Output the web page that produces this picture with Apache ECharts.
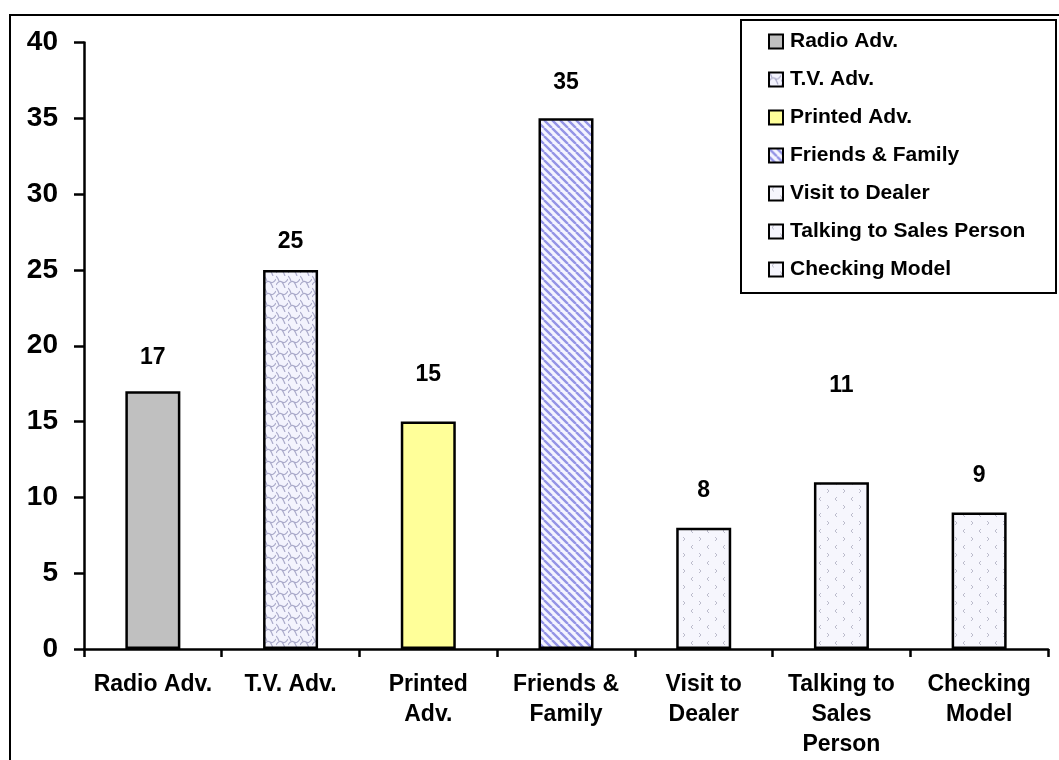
<!DOCTYPE html>
<html>
<head>
<meta charset="utf-8">
<title>Sources of Information</title>
<script src="https://cdn.jsdelivr.net/npm/echarts@6/dist/echarts.min.js"></script>
<style>
  html, body { margin: 0; padding: 0; background: #ffffff; }
  #chart { width: 1059px; height: 760px; }
</style>
</head>
<body>
<div id="chart"></div>
<script>
// Information sources and how many respondents named each one
const categories = ['Radio Adv.', 'T.V. Adv.', 'Printed Adv.', 'Friends & Family',
  'Visit to Dealer', 'Talking to Sales Person', 'Checking Model'];
const tickLabels = ['Radio Adv.', 'T.V. Adv.', 'Printed\nAdv.', 'Friends &\nFamily',
  'Visit to\nDealer', 'Talking to\nSales\nPerson', 'Checking\nModel'];
const values = [17, 25, 15, 35, 8, 11, 9];
const yTicks = [0, 5, 10, 15, 20, 25, 30, 35, 40];

// How far each value label sits above its bar (px, label centre to bar top)
const labelRise = [34, 28, 47, 36, 37, 97, 37];

const FONT = 'Arial, "Liberation Sans", sans-serif';

function makeTile(w, h, draw) {
  const c = document.createElement('canvas');
  c.width = w; c.height = h;
  draw(c.getContext('2d'), w, h);
  return { image: c, repeat: 'repeat' };
}

// Woven lattice fill
const weave = makeTile(12, 12, (g, w, h) => {
  g.fillStyle = '#f3f3fd'; g.fillRect(0, 0, w, h);
  g.strokeStyle = '#a9a9c9'; g.lineWidth = 1.2;
  g.beginPath();
  g.moveTo(0, 9); g.quadraticCurveTo(3, 4, 6, 6); g.quadraticCurveTo(9, 8, 12, 3);
  g.moveTo(-6, 15); g.quadraticCurveTo(-3, 10, 0, 12);
  g.moveTo(0, 0); g.quadraticCurveTo(2, 2, 3, 5);
  g.moveTo(6, 6); g.quadraticCurveTo(8, 9, 9, 12);
  g.stroke();
});

// Diagonal stripes
const stripes = makeTile(8, 8, (g, w, h) => {
  g.fillStyle = '#f4f4ff'; g.fillRect(0, 0, w, h);
  g.strokeStyle = '#9494e6'; g.lineWidth = 2.4;
  g.beginPath();
  [-8, 0, 8].forEach(k => { g.moveTo(k, 0); g.lineTo(k + 8, 8); });
  g.stroke();
});

// Sparse chevron speckle
const speckle = makeTile(16, 16, (g, w, h) => {
  g.fillStyle = '#f6f6fd'; g.fillRect(0, 0, w, h);
  g.strokeStyle = '#bcbccc'; g.lineWidth = 1;
  g.beginPath();
  g.moveTo(5, 1); g.lineTo(3, 3); g.lineTo(5, 5);
  g.moveTo(11, 9); g.lineTo(13, 11); g.lineTo(11, 13);
  g.stroke();
});

const fills = ['#c0c0c0', weave, '#ffff99', stripes, speckle, speckle, speckle];

const series = categories.map((name, i) => ({
  name: name,
  type: 'bar',
  stack: 'sources',
  barWidth: 55,
  data: values.map((v, j) => (j === i ? v : '-')),
  itemStyle: { color: fills[i], borderColor: '#000000', borderWidth: 2.5 },
  label: {
    show: true,
    position: 'top',
    distance: 0,
    verticalAlign: 'middle',
    offset: [0, -labelRise[i]],
    color: '#000000',
    fontFamily: FONT,
    fontWeight: 'bold',
    fontSize: 23
  },
  emphasis: { disabled: true }
}));

const chart = echarts.init(document.getElementById('chart'), null, { renderer: 'canvas' });
chart.setOption({
  animation: false,
  backgroundColor: '#ffffff',
  grid: { left: 84, right: 11, top: 42.5, bottom: 110, containLabel: false },
  xAxis: {
    type: 'category',
    data: tickLabels,
    axisLine: { show: true, lineStyle: { color: '#000000', width: 2.5 } },
    axisTick: { show: true, length: 8, lineStyle: { color: '#000000', width: 2.5 } },
    axisLabel: {
      interval: 0, margin: 21, color: '#000000', fontFamily: FONT,
      fontWeight: 'bold', fontSize: 23, lineHeight: 30
    },
    splitLine: { show: false }
  },
  yAxis: {
    type: 'value',
    min: yTicks[0],
    max: yTicks[yTicks.length - 1],
    interval: yTicks[1] - yTicks[0],
    axisLine: { show: true, lineStyle: { color: '#000000', width: 2.5 } },
    axisTick: { show: true, length: 10, lineStyle: { color: '#000000', width: 2.5 } },
    axisLabel: {
      margin: 26, color: '#000000', fontFamily: FONT, fontWeight: 'bold', fontSize: 28
    },
    splitLine: { show: false }
  },
  legend: {
    orient: 'vertical',
    left: 768,
    top: 31,
    padding: 0,
    itemWidth: 14,
    itemHeight: 14,
    itemGap: 17,
    icon: 'rect',
    selectedMode: false,
    itemStyle: { borderColor: '#000000', borderWidth: 2 },
    textStyle: {
      color: '#000000', fontFamily: FONT, fontWeight: 'bold', fontSize: 21,
      lineHeight: 20, padding: [0, 0, 0, 2]
    },
    data: categories
  },
  graphic: [
    {
      type: 'rect', silent: true, z: -1,
      shape: { x: 10, y: 15, width: 1100, height: 800 },
      style: { fill: null, stroke: '#000000', lineWidth: 2 }
    },
    {
      type: 'rect', silent: true, z: 0,
      shape: { x: 741, y: 20, width: 315, height: 273 },
      style: { fill: '#ffffff', stroke: '#000000', lineWidth: 2 }
    }
  ],
  series: series
});
</script>
</body>
</html>
